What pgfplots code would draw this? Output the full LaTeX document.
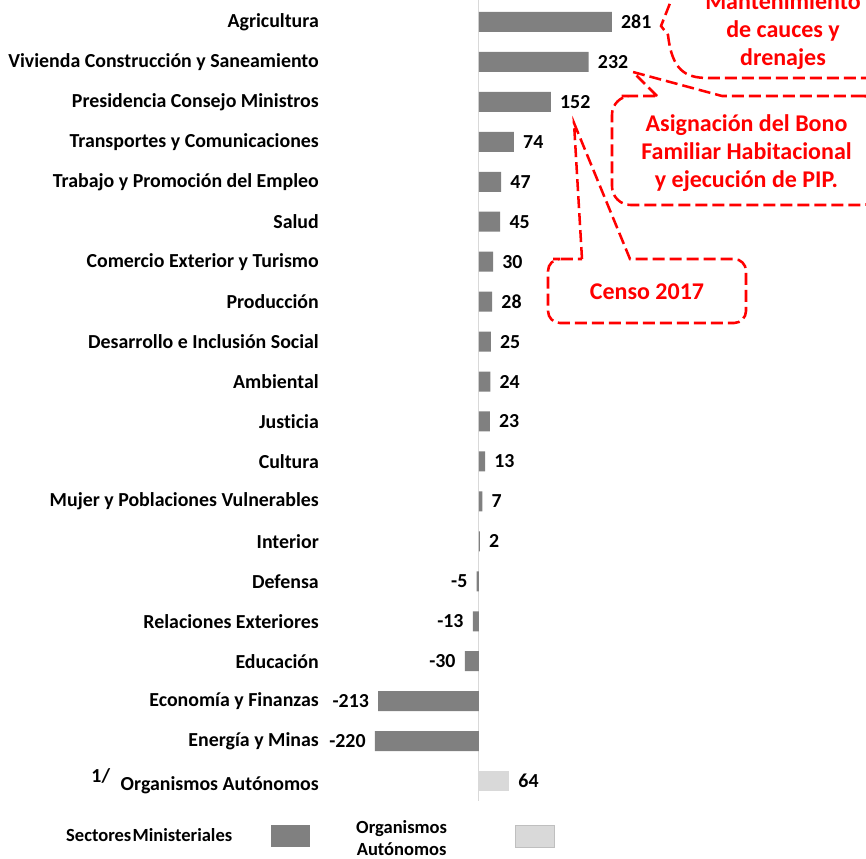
\documentclass[border=0pt]{standalone}
\usepackage{fontspec}
\setmainfont{Carlito}[Ligatures=CommonOff]
\usepackage{pgfplots}
\pgfplotsset{compat=1.18}
\usepackage{pgfplotstable}
\definecolor{barg}{HTML}{808080}
\definecolor{barl}{HTML}{D9D9D9}
\definecolor{cred}{HTML}{FF0000}

\pgfplotstableread{
i v
0 281
1 232
2 152
3 74
4 47
5 45
6 30
7 28
8 25
9 24
10 23
11 13
12 7
13 2
}\pos
\pgfplotstableread{
i v
14 -5
15 -13
16 -30
17 -213
18 -220
}\negt
\pgfplotstableread{
i v
19 64
}\oa

\begin{document}
\begin{tikzpicture}
\path[use as bounding box] (0,0) rectangle (649.5pt,-643.5pt);
\begin{axis}[
  at={(252.8pt,-600.75pt)}, anchor=south west,
  scale only axis, width=390.2pt, height=600.75pt,
  xmin=-300, xmax=800, ymin=-0.55, ymax=19.5, y dir=reverse,
  xbar, bar width=15pt, bar shift=0pt,
  axis line style={draw=none},
  xtick=\empty,
  ytick={0,...,19},
  yticklabels={Agricultura,Vivienda Construcción y Saneamiento,Presidencia Consejo Ministros,Transportes y Comunicaciones,Trabajo y Promoción del Empleo,Salud,Comercio Exterior y Turismo,Producción,Desarrollo e Inclusión Social,Ambiental,Justicia,Cultura,Mujer y Poblaciones Vulnerables,Interior,Defensa,Relaciones Exteriores,Educación,Economía y Finanzas,Energía y Minas,{\raisebox{6.5pt}{1/}\hspace{8pt}Organismos Autónomos}},
  major tick length=0pt, tick style={draw=none},
  yticklabel style={font=\fontsize{14.9}{17}\selectfont\bfseries, inner sep=0pt, xshift=-13.5pt, anchor=east},
  clip=false,
  nodes near coords, point meta=explicit symbolic,
  nodes near coords style={font=\fontsize{14.9}{17}\selectfont\bfseries, inner sep=0pt, text=black},
  legend columns=2, legend plot pos=right,
  legend style={at={(axis description cs:-0.5211,-0.0437)}, anchor=west, draw=none, fill=none, inner sep=0pt,
    font=\fontsize{13.9}{17.5}\selectfont\bfseries,
    /tikz/every odd column/.style={column sep=29.25pt},
    /tikz/every even column/.style={column sep=34.5pt},
    nodes={inner sep=0pt}},
]
\draw[barl, line width=0.75pt] (axis cs:0,-0.55) -- (axis cs:0,19.5);
\addplot[fill=barg, draw=none,
  every node near coord/.append style={anchor=west, xshift=6.75pt},
  legend image code/.code={\fill[barg] (0pt,-8.25pt) rectangle (29.25pt,8.25pt);}]
  table[x=v,y=i,meta=v] {\pos};
\addlegendentry{Sectores\hspace{1pt}Ministeriales}
\addplot[fill=barg, draw=none, forget plot,
  every node near coord/.append style={anchor=east, xshift=-6.75pt}]
  table[x=v,y=i,meta=v] {\negt};
\addplot[fill=barl, draw=none,
  every node near coord/.append style={anchor=west, xshift=6.75pt},
  legend image code/.code={\filldraw[fill=barl, draw=black!25, line width=0.4pt] (0pt,-8.25pt) rectangle (29.25pt,8.25pt);}]
  table[x=v,y=i,meta=v] {\oa};
\addlegendentry{\raisebox{3pt}[\height][\depth]{\begin{tabular}{@{}c@{}}Organismos\\[-1.5pt]Autónomos\end{tabular}}\hspace*{21.75pt}}
\end{axis}
\begin{scope}[x=0.75pt,y=-0.75pt, callout/.style={draw=cred, line width=1.9pt, dash pattern=on 9pt off 3.75pt}]
  % box 1
  \draw[callout] (676,-12) -- (661,26) -- (668,35) .. controls (672,70) and (685,78) .. (708,78) -- (900,78);
  \node[text=cred, font=\fontsize{18}{21}\selectfont\bfseries, align=center] at (783,31) {Mantenimiento\\de cauces y\\drenajes};
  % box 2
  \draw[callout] (657,96) -- (633,72) -- (722,96) -- (867,96) [rounded corners=14pt] -- (881,96) -- (881,205) -- (612,205) -- (612,96) -- (640,96) [sharp corners] -- (657,96);
  \node[text=cred, font=\fontsize{18}{21}\selectfont\bfseries, align=center] at (746.5,153) {Asignación del Bono\\Familiar Habitacional\\y ejecución de PIP.};
  % box 3
  \draw[callout] (582,259) -- (574,123) -- (630,259) -- (700,259) [rounded corners=9pt] -- (746,259) -- (746,323) -- (548,323) -- (548,259) -- (565,259) [sharp corners] -- (582,259);
  \node[text=cred, font=\fontsize{18}{21}\selectfont\bfseries, align=center] at (647,292) {Censo 2017};
\end{scope}
\end{tikzpicture}
\end{document}
